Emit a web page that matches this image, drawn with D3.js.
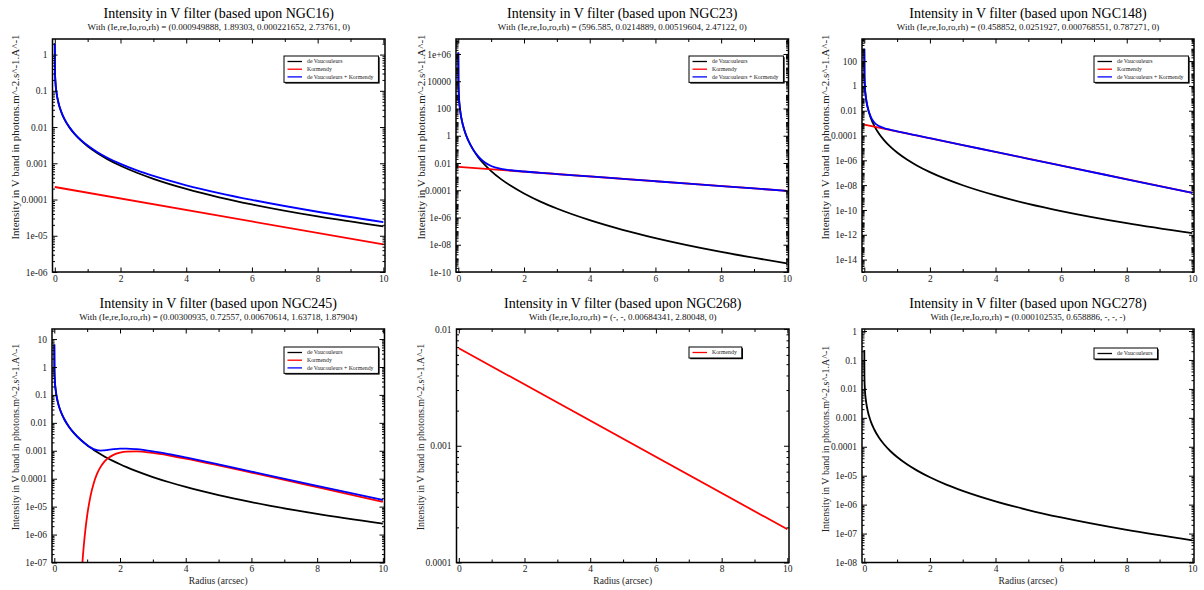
<!DOCTYPE html>
<html><head><meta charset="utf-8">
<script src="https://cdn.jsdelivr.net/npm/d3@7"></script>
<style>body{margin:0;background:#fff}svg{display:block}</style>
</head><body>
<svg id="c" width="1204" height="590"></svg>
<script>
// ---------- data ----------
const radii = [0,0.005,0.02,0.05,0.1,0.2,0.3,0.45,0.6,0.8,1,1.3,1.6,2,2.5,3,4,5,6,8,10];
const kormRadii = [0,10];

const ngc16DeVauc = [2.0337,0.35749,0.17404,0.09237,0.05147,0.025674,0.016099,0.009611,0.006447,0.004198,0.002943,0.001889,0.0013026,0.0008542,0.0005469,0.0003726,0.00019617,0.00011539,7.313e-5,3.409e-5,1.814e-5];
const ngc16Kormendy = [2.2165e-4,5.745e-6];
const ngc16Sum = [2.0339,0.35771,0.17420,0.09259,0.05168,0.02588,0.016298,0.009799,0.006625,0.004363,0.003097,0.002027,0.0014262,0.000961,0.0006358,0.0004467,0.0002476,0.0001511,9.789e-5,4.601e-5,2.389e-5];

const ngc23DeVauc = [1.2773e6,6211,683.8,98.35,16.386,1.945,0.46587,0.09583,0.028197,0.0075731,0.0025544,6.5706e-4,2.1022e-4,5.7724e-5,1.4719e-5,4.5479e-6,6.3691e-7,1.2539e-7,3.1023e-8,2.995e-9,4.335e-10];
const ngc23Kormendy = [5.19604e-3,9.086e-5];
const ngc23Sum = [1.2773e6,6211,683.8,98.36,16.391,1.9498,0.47047,0.10016,0.032273,0.011332,0.0060212,0.0037276,0.0029297,0.0023707,0.0019041,0.0015479,0.0010303,6.871e-4,4.5838e-4,2.0404e-4,9.086e-5];

const ngc148DeVauc = [982.4,5.879,0.7054,0.10943,0.01955,2.5214e-3,6.3845e-4,1.397e-4,4.3112e-5,1.2189e-5,4.2887e-6,1.1632e-6,3.8907e-7,1.1236e-7,3.0219e-8,9.7744e-9,1.4779e-9,3.0999e-10,8.0981e-11,8.5643e-12,1.3366e-12];
const ngc148Kormendy = [7.68551e-4,2.3396e-9];
const ngc148Sum = [982.4,5.8798,0.70615,0.11015,0.020227,3.1175e-3,1.1635e-3,5.7366e-4,4.0177e-4,2.9039e-4,2.2007e-4,1.4857e-4,1.0109e-4,6.0687e-5,3.2132e-5,1.7022e-5,4.7764e-6,1.3412e-6,3.7665e-7,2.9691e-8,2.3409e-9];

const radii245 = [0,0.005,0.02,0.05,0.1,0.2,0.3,0.45,0.6,0.8,1,1.1,1.2,1.3,1.4,1.5,1.6,1.8,2,2.2,2.5,3,3.5,4,5,6,8,10];
const ngc245DeVauc = [6.443,0.70712,0.28314,0.12666,0.060224,0.024876,0.01375,0.0071352,0.0042955,0.0024898,0.0015863,0.0012983,0.0010767,0.0009031,0.00076505,0.00065373,0.0005629,0.00042574,0.00032928,0.00025947,0.0001868,0.00011476,0.00007466,0.000050766,0.000025859,0.000014492,0.0000054948,0.0000024645];
const ngc245Sum = [6.443,0.70712,0.28314,0.12666,0.060224,0.024876,0.01375,0.0071352,0.0042955,0.0024898,0.0015911,0.0013217,0.001146,0.0010511,0.0010192,0.0010294,0.0010625,0.0011418,0.0011918,0.0011976,0.0011394,0.00095412,0.00075203,0.00057603,0.00032583,0.00018103,0.000055462,0.000017287];
const kormRadii245 = [0.8,0.85,0.9,0.95,1,1.1,1.2,1.3,1.4,1.5,1.6,1.8,2,2.2,2.5,3,3.5,4,5,6,8,10];
const ngc245Kormendy = [9.698e-9,8.114e-8,4.3181e-7,1.6362e-6,4.785e-6,2.3437e-5,6.9295e-5,1.4796e-4,2.5412e-4,3.757e-4,4.9957e-4,7.1604e-4,8.6252e-4,9.3817e-4,9.5255e-4,8.3936e-4,6.7737e-4,5.2526e-4,2.9997e-4,1.6654e-4,4.9967e-5,1.4822e-5];

const ngc268Kormendy = [6.84341e-3,1.9253e-4];

const ngc278DeVauc = [0.21953,0.022829,0.008939,0.0039212,0.0018309,7.4017e-4,4.0325e-4,2.0592e-4,1.2244e-4,7.0036e-5,4.413e-5,2.4783e-5,1.527e-5,8.8164e-6,4.9203e-6,2.9944e-6,1.2986e-6,6.5097e-7,3.5954e-7,1.3315e-7,5.8573e-8];

const xTickValues = [0,2,4,6,8,10];
const xTickLabels = ["0","2","4","6","8","10"];

const yTicks16 = [1,0.1,0.01,0.001,1e-4,1e-5,1e-6];
const yLabels16 = ["1","0.1","0.01","0.001","0.0001","1e-05","1e-06"];
const yTicks23 = [1e6,1e4,100,1,0.01,1e-4,1e-6,1e-8,1e-10];
const yLabels23 = ["1e+06","10000","100","1","0.01","0.0001","1e-06","1e-08","1e-10"];
const yTicks148 = [100,1,0.01,1e-4,1e-6,1e-8,1e-10,1e-12,1e-14];
const yLabels148 = ["100","1","0.01","0.0001","1e-06","1e-08","1e-10","1e-12","1e-14"];
const yTicks245 = [10,1,0.1,0.01,0.001,1e-4,1e-5,1e-6,1e-7];
const yLabels245 = ["10","1","0.1","0.01","0.001","0.0001","1e-05","1e-06","1e-07"];
const yTicks268 = [0.01,0.001,1e-4];
const yLabels268 = ["0.01","0.001","0.0001"];
const yTicks278 = [1,0.1,0.01,0.001,1e-4,1e-5,1e-6,1e-7,1e-8];
const yLabels278 = ["1","0.1","0.01","0.001","0.0001","1e-05","1e-06","1e-07","1e-08"];

const galaxies = ["NGC16","NGC23","NGC148","NGC245","NGC268","NGC278"];
const subtitles = [
 "With (Ie,re,Io,ro,rh) = (0.000949888, 1.89303, 0.000221652, 2.73761, 0)",
 "With (Ie,re,Io,ro,rh) = (596.585, 0.0214889, 0.00519604, 2.47122, 0)",
 "With (Ie,re,Io,ro,rh) = (0.458852, 0.0251927, 0.000768551, 0.787271, 0)",
 "With (Ie,re,Io,ro,rh) = (0.00300935, 0.72557, 0.00670614, 1.63718, 1.87904)",
 "With (Ie,re,Io,ro,rh) = (-, -, 0.00684341, 2.80048, 0)",
 "With (Ie,re,Io,ro,rh) = (0.000102535, 0.658886, -, -, -)"
];
const seriesNames = ["de Vaucouleurs","Kormendy","de Vaucouleurs + Kormendy"];
const yAxisTitle = "Intensity in V band in photons.m^-2.s^-1.A^-1";
const xAxisTitle = "Radius (arcsec)";

// ---------- layout ----------
const COL = {dv:"#000000", k:"#ff0000", s:"#0000ff"};
const FONT = "'Liberation Serif','Times New Roman','DejaVu Serif',serif";
const zip = (xs, ys) => xs.map((r,i)=>[r, ys[i]]);

const panels = [
 {row:0, box:[52.5,39,385,272], ylog:[-6,0.43], yt:yTicks16, yl:yLabels16, ylx:15, yly:137, yfs:11,
  series:[{d:zip(radii,ngc16DeVauc),c:COL.dv},{d:zip(kormRadii,ngc16Kormendy),c:COL.k},{d:zip(radii,ngc16Sum),c:COL.s}],
  legend:[0,1,2], legX:284, legY:56},
 {row:0, box:[456,39,788.5,272], ylog:[-10,7.1], yt:yTicks23, yl:yLabels23, ylx:420.7, yly:137, yfs:11,
  series:[{d:zip(radii,ngc23DeVauc),c:COL.dv},{d:zip(kormRadii,ngc23Kormendy),c:COL.k},{d:zip(radii,ngc23Sum),c:COL.s}],
  legend:[0,1,2], legX:689, legY:56},
 {row:0, box:[862,39,1194,272], ylog:[-15,3.78], yt:yTicks148, yl:yLabels148, ylx:825, yly:137, yfs:11,
  series:[{d:zip(radii,ngc148DeVauc),c:COL.dv},{d:zip(kormRadii,ngc148Kormendy),c:COL.k},{d:zip(radii,ngc148Sum),c:COL.s}],
  legend:[0,1,2], legX:1094, legY:56},
 {row:1, box:[52,329,384.5,562.5], ylog:[-7,1.36], yt:yTicks245, yl:yLabels245, ylx:15, yly:437, yfs:10,
  series:[{d:zip(radii245,ngc245DeVauc),c:COL.dv},{d:zip(kormRadii245,ngc245Kormendy),c:COL.k},{d:zip(radii245,ngc245Sum),c:COL.s}],
  legend:[0,1,2], legX:284, legY:347},
 {row:1, box:[456.5,329,789,562.5], ylog:[-4,-2], yt:yTicks268, yl:yLabels268, ylx:420.7, yly:437, yfs:10,
  series:[{d:zip(kormRadii,ngc268Kormendy),c:COL.k}],
  legend:[1], legX:689, legY:347},
 {row:1, box:[862,329,1194,562.5], ylog:[-8,0.07], yt:yTicks278, yl:yLabels278, ylx:825, yly:439, yfs:10,
  series:[{d:zip(radii,ngc278DeVauc),c:COL.dv}],
  legend:[0], legX:1094, legY:348}
];
const legColors = [COL.dv, COL.k, COL.s];

const svg = d3.select("#c");
const defs = svg.append("defs");
defs.append("clipPath").attr("id","row0clip").append("rect").attr("x",0).attr("y",0).attr("width",1204).attr("height",282);

panels.forEach((p, idx) => {
  const [L,T,R,B] = p.box;
  const g = svg.append("g").attr("font-family", FONT);
  if (p.row === 0) g.attr("clip-path","url(#row0clip)");
  const x = d3.scaleLinear().domain([-0.07,10.05]).range([L,R]);
  const y = d3.scaleLog().domain([Math.pow(10,p.ylog[0]), Math.pow(10,p.ylog[1])]).range([B,T]);
  const cx = (L+R)/2;

  // titles
  g.append("text").attr("x",cx).attr("y",T-21).attr("text-anchor","middle")
    .attr("font-size",14).attr("fill","#000").text("Intensity in V filter (based upon " + galaxies[idx] + ")");
  g.append("text").attr("x",cx).attr("y",T-9).attr("text-anchor","middle")
    .attr("font-size",9).attr("fill","#111").text(subtitles[idx]);

  // curves
  const cid = "pc"+idx;
  defs.append("clipPath").attr("id",cid).append("rect").attr("x",L).attr("y",T).attr("width",R-L).attr("height",B-T);
  const line = d3.line().x(d=>x(d[0])).y(d=>y(d[1])).curve(d3.curveMonotoneX);
  const pg = g.append("g").attr("clip-path","url(#"+cid+")");
  p.series.forEach(s => {
    pg.append("path").attr("d", line(s.d)).attr("fill","none").attr("stroke",s.c).attr("stroke-width",1.8);
  });

  // minor ticks
  const yMinor = [];
  for (let k = Math.floor(p.ylog[0]); k <= Math.ceil(p.ylog[1]); k++) {
    for (let m = 1; m <= 9; m++) {
      const v = m*Math.pow(10,k);
      const lv = Math.log10(v);
      if (lv < p.ylog[0]-1e-9 || lv > p.ylog[1]+1e-9) continue;
      if (p.yt.some(t => Math.abs(Math.log10(t)-lv) < 1e-6)) continue;
      yMinor.push(v);
    }
  }
  const xMinor = [1,3,5,7,9];
  const axStyle = sel => { sel.select(".domain").remove(); sel.selectAll("line").attr("stroke","#000").attr("stroke-width",1); };
  const tf = sel => sel.selectAll("text").attr("font-family",FONT).attr("font-size",9.5).attr("fill","#222");

  g.append("g").attr("transform",`translate(${L},0)`)
    .call(d3.axisLeft(y).tickValues(p.yt).tickFormat((d,i)=>p.yl[i]).tickSize(-5).tickPadding(5)).call(axStyle).call(tf);
  g.append("g").attr("transform",`translate(${L},0)`)
    .call(d3.axisLeft(y).tickValues(yMinor).tickFormat("").tickSize(-2.5)).call(axStyle);
  g.append("g").attr("transform",`translate(${R},0)`)
    .call(d3.axisRight(y).tickValues(p.yt).tickFormat("").tickSize(-5)).call(axStyle);
  g.append("g").attr("transform",`translate(${R},0)`)
    .call(d3.axisRight(y).tickValues(yMinor).tickFormat("").tickSize(-2.5)).call(axStyle);
  g.append("g").attr("transform",`translate(0,${B})`)
    .call(d3.axisBottom(x).tickValues(xTickValues).tickFormat((d,i)=>xTickLabels[i]).tickSize(-4.5).tickPadding(3)).call(axStyle).call(tf);
  g.append("g").attr("transform",`translate(0,${B})`)
    .call(d3.axisBottom(x).tickValues(xMinor).tickFormat("").tickSize(-3)).call(axStyle);
  g.append("g").attr("transform",`translate(0,${T})`)
    .call(d3.axisTop(x).tickValues(xTickValues).tickFormat("").tickSize(-4.5)).call(axStyle);
  g.append("g").attr("transform",`translate(0,${T})`)
    .call(d3.axisTop(x).tickValues(xMinor).tickFormat("").tickSize(-3)).call(axStyle);

  // frame
  g.append("rect").attr("x",L).attr("y",T).attr("width",R-L).attr("height",B-T)
    .attr("fill","none").attr("stroke","#000").attr("stroke-width",1.5);

  // axis titles
  g.append("text").attr("transform",`translate(${p.ylx},${p.yly}) rotate(-90)`).attr("dy","0.35em")
    .attr("text-anchor","middle").attr("font-size",p.yfs).attr("fill","#222").text(yAxisTitle);
  g.append("text").attr("x",cx).attr("y",B+21).attr("text-anchor","middle")
    .attr("font-size",9.5).attr("fill","#222").text(xAxisTitle);

  // legend
  const lg = g.append("g");
  const n = p.legend.length;
  const rowY = i => p.legY + 5.5 + i*7.7;
  const texts = p.legend.map((si,i) => lg.append("text").attr("x",p.legX+23).attr("y",rowY(i)).attr("dy","0.33em")
      .attr("font-size",5.8).attr("fill","#222").text(seriesNames[si]));
  const maxW = d3.max(texts, t => t.node().getComputedTextLength());
  const w = 23 + maxW + 5;
  const h = n*7.7 + 3.3;
  lg.insert("rect",":first-child").attr("x",p.legX).attr("y",p.legY).attr("width",w).attr("height",h)
    .attr("fill","#fff").attr("stroke","#000").attr("stroke-width",1);
  lg.insert("rect",":first-child").attr("x",p.legX+1.2).attr("y",p.legY+1.2).attr("width",w).attr("height",h)
    .attr("fill","#000");
  p.legend.forEach((si,i) => {
    lg.append("line").attr("x1",p.legX+3.5).attr("x2",p.legX+18).attr("y1",rowY(i)).attr("y2",rowY(i))
      .attr("stroke",legColors[si]).attr("stroke-width",1.3);
  });
});
</script>
</body></html>
